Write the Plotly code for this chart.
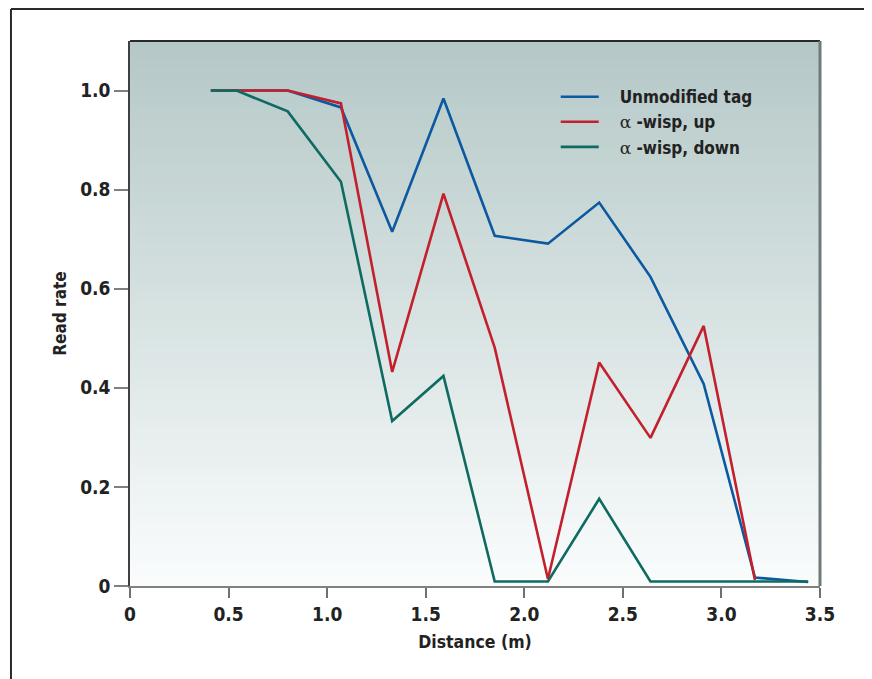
import plotly.graph_objects as go

# ---- data ----
distance = [0.41, 0.54, 0.80, 1.07, 1.33, 1.59, 1.85, 2.12, 2.38, 2.64, 2.91, 3.17, 3.44]
unmodified = [1.0, 1.0, 1.0, 0.966, 0.715, 0.984, 0.707, 0.691, 0.774, 0.624, 0.408, 0.017, 0.008]
wisp_up_x = [0.41, 0.54, 0.80, 1.07, 1.33, 1.59, 1.85, 2.12, 2.38, 2.64, 2.91, 3.17]
wisp_up = [1.0, 1.0, 1.0, 0.974, 0.432, 0.792, 0.481, 0.014, 0.451, 0.299, 0.525, 0.012]
wisp_down = [1.0, 1.0, 0.958, 0.816, 0.333, 0.424, 0.009, 0.009, 0.176, 0.009, 0.009, 0.009, 0.009]

x_tickvals = [0, 0.5, 1.0, 1.5, 2.0, 2.5, 3.0, 3.5]
x_ticktext = ["0", "0.5", "1.0", "1.5", "2.0", "2.5", "3.0", "3.5"]
y_tickvals = [0, 0.2, 0.4, 0.6, 0.8, 1.0]
y_ticktext = ["0", "0.2", "0.4", "0.6", "0.8", "1.0"]

PAD = "\u00a0\u00a0\u00a0"
ALPHA = "<span style='font-family:DejaVu Serif;font-weight:normal'>\u03b1</span>"
names = [PAD + "Unmodified tag",
         PAD + ALPHA + " -wisp, up",
         PAD + ALPHA + " -wisp, down"]
colors = ["#0b5aa0", "#c3202e", "#0f6b61"]

FONT = "DejaVu Sans Condensed"
TXT = "#222222"

fig = go.Figure()
fig.add_trace(go.Scatter(x=distance, y=unmodified, mode="lines", name=names[0],
                         line=dict(color=colors[0], width=2.6)))
fig.add_trace(go.Scatter(x=wisp_up_x, y=wisp_up, mode="lines", name=names[1],
                         line=dict(color=colors[1], width=2.6)))
fig.add_trace(go.Scatter(x=distance, y=wisp_down, mode="lines", name=names[2],
                         line=dict(color=colors[2], width=2.6)))

# gradient background bands
top = (180, 200, 199)
bot = (250, 252, 252)
n = 80
shapes = []
for i in range(n):
    t = i / (n - 1)
    c = tuple(round(top[k] + (bot[k] - top[k]) * t) for k in range(3))
    y1 = 1 - i / n
    y0 = 1 - (i + 1) / n
    shapes.append(dict(type="rect", xref="x domain", yref="y domain",
                       x0=0, x1=1, y0=y0 - 0.002, y1=y1 + 0.002,
                       fillcolor="rgb(%d,%d,%d)" % c, line=dict(width=0), layer="below"))
# plot-area frame: top dark, right gray
shapes.append(dict(type="line", xref="x domain", yref="y domain", x0=0, x1=1, y0=1, y1=1,
                   line=dict(color="#2a2a2a", width=2)))
shapes.append(dict(type="line", xref="x domain", yref="y domain", x0=1, x1=1, y0=0, y1=1,
                   line=dict(color="#6f7a7a", width=3)))
# outer figure frame (top and left only visible)
FX = -0.1725
FY = 1.0588
shapes.append(dict(type="line", xref="paper", yref="paper", x0=FX, x1=1.2, y0=FY, y1=FY,
                   line=dict(color="#2a2a2a", width=2)))
shapes.append(dict(type="line", xref="paper", yref="paper", x0=FX, x1=FX, y0=-0.3, y1=FY,
                   line=dict(color="#2a2a2a", width=2)))

fig.update_layout(
    width=864, height=671,
    margin=dict(l=122, r=52, t=33, b=93),
    paper_bgcolor="white",
    plot_bgcolor="white",
    font=dict(family=FONT, color=TXT, size=17, weight="bold"),
    shapes=shapes,
    showlegend=True,
    legend=dict(x=0.617, y=0.93, xanchor="left", yanchor="top",
                bgcolor="rgba(0,0,0,0)", borderwidth=0,
                font=dict(family=FONT, size=17, color=TXT, weight="bold"),
                tracegroupgap=0, itemwidth=38),
    xaxis=dict(range=[0, 3.5], tickvals=x_tickvals, ticktext=x_ticktext,
               showgrid=False, zeroline=False, showline=True, linecolor="#808080", linewidth=2,
               ticks="outside", ticklen=10, tickcolor="#707070", tickwidth=1.5,
               tickfont=dict(size=19, family=FONT, color=TXT, weight="bold"),
               title=dict(text="Distance (m)", standoff=12,
                          font=dict(size=17.5, family=FONT, color=TXT, weight="bold"))),
    yaxis=dict(range=[0, 1.1], tickvals=y_tickvals, ticktext=y_ticktext,
               showgrid=False, zeroline=False, showline=True, linecolor="#404040", linewidth=1.5,
               ticks="outside", ticklen=14, tickcolor="#808080", tickwidth=1.5,
               tickfont=dict(size=19, family=FONT, color=TXT, weight="bold"),
               title=dict(text="Read rate", standoff=9,
                          font=dict(size=17, family=FONT, color=TXT, weight="bold"))),
)

fig.write_html("out.html")
